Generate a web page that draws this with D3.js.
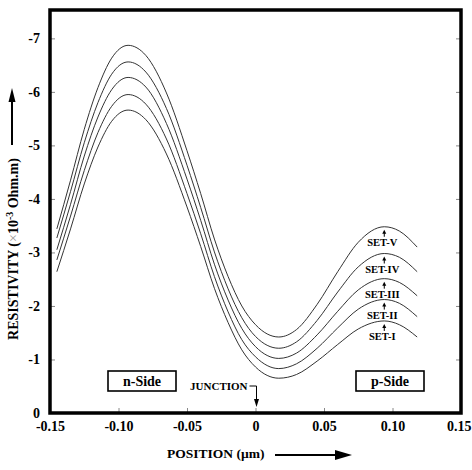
<!DOCTYPE html>
<html>
<head>
<meta charset="utf-8">
<script src="https://cdn.jsdelivr.net/npm/d3@7"></script>
<style>
  body { margin: 0; background: #fff; }
  svg text { font-family: "Liberation Serif", "Times New Roman", serif; font-weight: bold; }
</style>
</head>
<body>
<svg id="chart" width="472" height="470"></svg>
<script>
// positions in micrometres, resistivity (shown as negative)
var positions = [-0.145, -0.135, -0.125, -0.115, -0.105, -0.093, -0.08, -0.065, -0.05, -0.04, -0.03,
                 -0.02, -0.01, 0.0, 0.017, 0.03, 0.045, 0.06, 0.075, 0.094, 0.105, 0.118];
var setI   = [2.64, 3.44, 4.28, 4.97, 5.45, 5.66, 5.48, 4.84, 3.85, 3.11, 2.33, 1.69, 1.18, 0.86, 0.65, 0.72, 0.97, 1.28, 1.57, 1.72, 1.65, 1.42];
var setII  = [2.86, 3.68, 4.53, 5.24, 5.73, 5.95, 5.77, 5.12, 4.10, 3.35, 2.55, 1.89, 1.37, 1.05, 0.83, 0.92, 1.21, 1.59, 1.94, 2.12, 2.05, 1.80];
var setIII = [3.05, 3.90, 4.80, 5.53, 6.04, 6.27, 6.09, 5.41, 4.37, 3.60, 2.78, 2.11, 1.58, 1.24, 1.02, 1.12, 1.46, 1.90, 2.30, 2.51, 2.44, 2.19];
var setIV  = [3.27, 4.14, 5.05, 5.80, 6.33, 6.56, 6.37, 5.69, 4.63, 3.84, 3.01, 2.32, 1.78, 1.43, 1.21, 1.33, 1.73, 2.26, 2.73, 2.98, 2.91, 2.64];
var setV   = [3.44, 4.35, 5.30, 6.08, 6.63, 6.87, 6.68, 5.98, 4.90, 4.10, 3.25, 2.55, 2.00, 1.65, 1.42, 1.56, 2.03, 2.64, 3.19, 3.48, 3.40, 3.10];
var setNames = ["SET-I", "SET-II", "SET-III", "SET-IV", "SET-V"];
var xTicks = [-0.15, -0.10, -0.05, 0, 0.05, 0.10, 0.15];
var yTicks = [0, 1, 2, 3, 4, 5, 6, 7];
var labelPos = 0.094;   // where the SET labels sit (right-hand peak)

var series = [setI, setII, setIII, setIV, setV];
var peakIdx = positions.indexOf(labelPos);

var svg = d3.select("#chart");

var x = d3.scaleLinear().domain([-0.15, 0.15]).range([50, 461]);
var y = d3.scaleLinear().domain([0, 7.53]).range([413, 10]);

// axes with inward ticks
var fmtX = function (d) { return d === 0 ? "0" : (d < 0 ? "-" : "") + Math.abs(d).toFixed(2); };
var fmtY = function (d) { return d === 0 ? "0" : "-" + d; };

var gx = svg.append("g")
    .attr("transform", "translate(0," + y(0) + ")")
    .call(d3.axisBottom(x).tickValues(xTicks).tickFormat(fmtX).tickSizeInner(-5).tickSizeOuter(0).tickPadding(8));
var gy = svg.append("g")
    .attr("transform", "translate(" + x(-0.15) + ",0)")
    .call(d3.axisLeft(y).tickValues(yTicks).tickFormat(fmtY).tickSizeInner(-5).tickSizeOuter(0).tickPadding(10));
var gr = svg.append("g")
    .attr("transform", "translate(" + x(0.15) + ",0)")
    .call(d3.axisRight(y).tickValues(yTicks).tickFormat("").tickSizeInner(-5).tickSizeOuter(0));

[gx, gy, gr].forEach(function (g) {
    g.select(".domain").remove();
    g.selectAll(".tick line").attr("stroke", "#888");
    g.selectAll("text").attr("font-size", 14).attr("fill", "#000")
        .attr("font-family", "'Liberation Serif', 'Times New Roman', serif");
});
// last x label sits against the page edge
gx.selectAll(".tick text").filter(function (d) { return d === 0.15; })
    .attr("text-anchor", "end").attr("x", 10);

// frame
svg.append("rect")
    .attr("x", x(-0.15))
    .attr("y", y(7.53))
    .attr("width", x(0.15) - x(-0.15))
    .attr("height", y(0) - y(7.53))
    .attr("fill", "none")
    .attr("stroke", "#000")
    .attr("stroke-width", 3.5);

// curves
var line = d3.line()
    .x(function (d, i) { return x(positions[i]); })
    .y(function (d) { return y(d); })
    .curve(d3.curveMonotoneX);

svg.selectAll(".curve")
    .data(series)
    .enter()
    .append("path")
    .attr("class", "curve")
    .attr("d", line)
    .attr("fill", "none")
    .attr("stroke", "#333")
    .attr("stroke-width", 1);

// SET labels with little up-arrows to the peak
series.forEach(function (s, i) {
    var px = x(labelPos);
    var py = y(s[peakIdx]);
    svg.append("text")
        .attr("x", px - 2)
        .attr("y", py + 19)
        .attr("text-anchor", "middle")
        .attr("font-size", 10.5)
        .text(setNames[i]);
    svg.append("line")
        .attr("x1", px).attr("x2", px)
        .attr("y1", py + 6).attr("y2", py + 10)
        .attr("stroke", "#000").attr("stroke-width", 1);
    svg.append("path")
        .attr("d", "M" + px + "," + (py + 3) + "l-2,4h4z")
        .attr("fill", "#000");
});

// n-Side / p-Side boxes
function sideBox(cx, label) {
    svg.append("rect")
        .attr("x", cx - 34).attr("y", 371)
        .attr("width", 68).attr("height", 20)
        .attr("fill", "#fff").attr("stroke", "#000").attr("stroke-width", 1.6);
    svg.append("text")
        .attr("x", cx).attr("y", 386)
        .attr("text-anchor", "middle")
        .attr("font-size", 14)
        .text(label);
}
sideBox(142, "n-Side");
sideBox(390, "p-Side");

// junction marker
var jx = x(0) + 1;
svg.append("text")
    .attr("x", jx - 9).attr("y", 390)
    .attr("text-anchor", "end")
    .attr("font-size", 11)
    .text("JUNCTION");
svg.append("path")
    .attr("d", "M" + (jx - 7) + ",386H" + jx + "V400")
    .attr("fill", "none").attr("stroke", "#000").attr("stroke-width", 1);
svg.append("path")
    .attr("d", "M" + jx + ",407l-2.5,-8h5z")
    .attr("fill", "#000");

// y axis title + arrow
svg.append("text")
    .attr("transform", "translate(18,249) rotate(-90)")
    .attr("text-anchor", "middle")
    .attr("font-size", 14)
    .call(function (t) {
        t.append("tspan").text("RESISTIVITY  (");
        t.append("tspan").attr("fill", "#999").attr("font-weight", "normal").text("\u00d7");
        t.append("tspan").text("10");
        t.append("tspan").attr("dy", -5).attr("font-size", 10).text("-3");
        t.append("tspan").attr("dy", 5).text(" Ohm.m)");
    });
svg.append("line")
    .attr("x1", 12).attr("x2", 12).attr("y1", 145).attr("y2", 100)
    .attr("stroke", "#000").attr("stroke-width", 2);
svg.append("path")
    .attr("d", "M12,88l-3.5,14h7z")
    .attr("fill", "#000");

// x axis title + arrow
svg.append("text")
    .attr("x", 167).attr("y", 458)
    .attr("font-size", 13.5)
    .text("POSITION (\u00b5m)");
svg.append("line")
    .attr("x1", 275).attr("x2", 340).attr("y1", 455).attr("y2", 455)
    .attr("stroke", "#000").attr("stroke-width", 2);
svg.append("path")
    .attr("d", "M352,455l-17,-5v10z")
    .attr("fill", "#000");
</script>
</body>
</html>
